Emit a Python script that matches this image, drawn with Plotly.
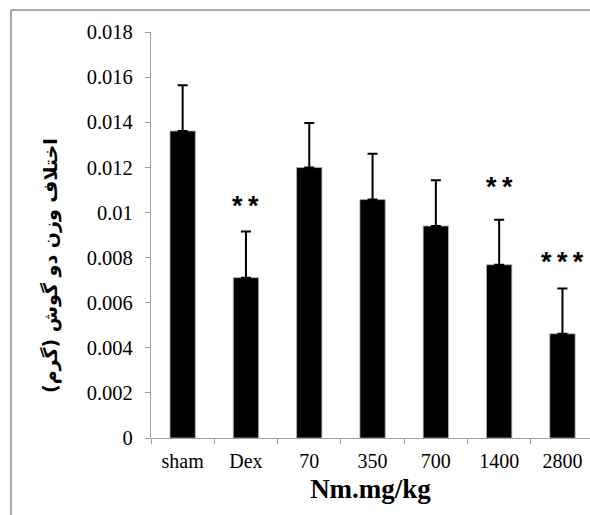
import plotly.graph_objects as go

categories = ["sham", "Dex", "70", "350", "700", "1400", "2800"]
means = [0.01361, 0.00711, 0.01199, 0.01057, 0.00940, 0.00768, 0.00462]
errors = [0.00203, 0.00204, 0.00198, 0.00203, 0.00203, 0.00200, 0.00201]
sig_labels = ["", "*\u2009*", "", "", "", "*\u2009*", "*\u2009*\u2009*"]
sig_y = [None, 0.0103, None, None, None, 0.01115, 0.00782]
y_ticks = [0, 0.002, 0.004, 0.006, 0.008, 0.010, 0.012, 0.014, 0.016, 0.018]
y_tick_text = ["0", "0.002", "0.004", "0.006", "0.008", "0.01", "0.012", "0.014", "0.016", "0.018"]
y_title = "<b>اختلاف وزن دو گوش (گرم)</b>"
x_title = "<b>Nm.mg/kg</b>"

serif = "Liberation Serif, Times New Roman, serif"

fig = go.Figure()
fig.add_trace(go.Bar(
    x=categories, y=means,
    marker=dict(color="black", line=dict(color="#b0b0b0", width=0.8)),
    error_y=dict(type="data", array=errors, symmetric=False,
                 arrayminus=[0] * len(errors),
                 color="black", thickness=2, width=5),
))

for i, (lab, yy) in enumerate(zip(sig_labels, sig_y)):
    if lab:
        fig.add_annotation(x=i, y=yy, text="<b>" + lab + "</b>", showarrow=False,
                           xanchor="center", yanchor="middle",
                           font=dict(family="Liberation Sans, Arial", size=27, color="black"))

# y-axis title placed as rotated annotation (offset below axis centre as in reference)
fig.add_annotation(xref="paper", yref="paper", x=(50 - 151) / 439, y=(438 - 266) / 406,
                   text=y_title, textangle=-90, showarrow=False,
                   xanchor="center", yanchor="middle",
                   font=dict(family="DejaVu Sans", size=19, color="black"))

grey = "#8c8c8c"
# outer frame (cropped chart border)
fig.add_shape(type="line", xref="paper", yref="paper",
              x0=(11 - 151) / 439, x1=1.0, y0=(438 - 10) / 406, y1=(438 - 10) / 406,
              line=dict(color=grey, width=1.5))
fig.add_shape(type="line", xref="paper", yref="paper",
              x0=(11 - 151) / 439, x1=(11 - 151) / 439, y0=(438 - 10) / 406, y1=-77 / 406,
              line=dict(color=grey, width=1.5))

fig.update_layout(
    width=590, height=515,
    margin=dict(l=151, r=0, t=32, b=77),
    paper_bgcolor="white", plot_bgcolor="white",
    showlegend=False, bargap=0.6,
    font=dict(family=serif, size=20, color="black"),
    xaxis=dict(
        type="category",
        range=[-0.5, 6.435], showline=True, linecolor="#a0a0a0", linewidth=1.2,
        ticks="outside", ticklen=5, tickcolor="#a0a0a0", tickwidth=1.2,
        tickson="boundaries", showgrid=False, ticklabelstandoff=5,
        tickfont=dict(family=serif, size=20, color="black"),
        title=dict(text=x_title, standoff=8,
                   font=dict(family=serif, size=27, color="black")),
    ),
    yaxis=dict(
        range=[0, 0.018], tickvals=y_ticks, ticktext=y_tick_text,
        showline=True, linecolor="#a0a0a0", linewidth=1.2,
        ticks="outside", ticklen=5, tickcolor="#a0a0a0", tickwidth=1.2,
        showgrid=False, zeroline=False, ticklabelstandoff=8,
        tickfont=dict(family=serif, size=20.5, color="black"),
    ),
)

fig.write_html("out.html", config={"displayModeBar": False},
               post_script="document.body.style.margin='0';document.body.style.overflow='hidden';")
